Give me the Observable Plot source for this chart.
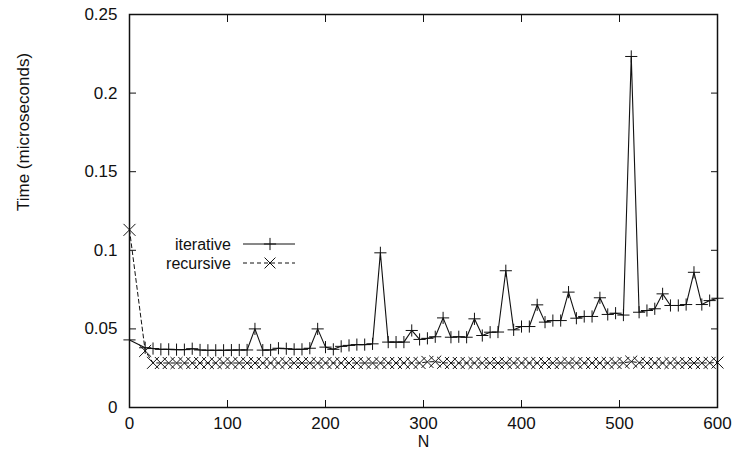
<!DOCTYPE html>
<html><head><meta charset="utf-8">
<script src="https://cdn.jsdelivr.net/npm/d3@7"></script>
<script src="https://cdn.jsdelivr.net/npm/@observablehq/plot@0.6"></script>
<style>body{margin:0;background:#fff}</style>
</head><body><div id="chart"></div>
<script>
const N = [0, 16, 24, 32, 40, 48, 56, 64, 72, 80, 88, 96, 104, 112, 120, 128, 136, 144, 152, 160,
  168, 176, 184, 192, 200, 208, 216, 224, 232, 240, 248, 256, 264, 272, 280, 288, 296, 304, 312, 320,
  328, 336, 344, 352, 360, 368, 376, 384, 392, 400, 408, 416, 424, 432, 440, 448, 456, 464, 472, 480,
  488, 496, 504, 512, 520, 528, 536, 544, 552, 560, 568, 576, 584, 592, 600];
const iterative = [0.043, 0.038, 0.0375, 0.037, 0.037, 0.0368, 0.0368, 0.0374, 0.0366, 0.0364, 0.0364, 0.0364, 0.0365, 0.0366, 0.0366, 0.050, 0.0365, 0.0366, 0.0377, 0.0374,
  0.037, 0.037, 0.0377, 0.050, 0.0384, 0.037, 0.0389, 0.0395, 0.040, 0.040, 0.0405, 0.0984, 0.0416, 0.0416, 0.0416, 0.049, 0.0433, 0.044, 0.045, 0.057,
  0.0447, 0.045, 0.0447, 0.0564, 0.0458, 0.0479, 0.048, 0.087, 0.0494, 0.0515, 0.0515, 0.0653, 0.0543, 0.0553, 0.0553, 0.0734, 0.0568, 0.0579, 0.0579, 0.0698,
  0.0592, 0.060, 0.0588, 0.2233, 0.0606, 0.0617, 0.0628, 0.0723, 0.0649, 0.0649, 0.0655, 0.086, 0.0655, 0.068, 0.0695];
const recursive = [0.113, 0.036, 0.0284, 0.0283, 0.0283, 0.0283, 0.0283, 0.0283, 0.0283, 0.0283, 0.0283, 0.0283, 0.0283, 0.0283, 0.0283, 0.0283, 0.0283, 0.0283, 0.0283, 0.0283,
  0.0283, 0.0283, 0.0283, 0.0283, 0.0283, 0.0283, 0.0283, 0.0283, 0.0283, 0.0283, 0.0283, 0.0283, 0.0283, 0.0283, 0.0283, 0.0283, 0.0283, 0.029, 0.0292, 0.0284,
  0.0283, 0.0283, 0.0283, 0.0283, 0.0283, 0.0283, 0.0283, 0.0283, 0.0283, 0.0283, 0.0283, 0.0283, 0.0283, 0.0283, 0.0283, 0.0283, 0.0283, 0.0283, 0.0283, 0.0283,
  0.0283, 0.0283, 0.0284, 0.0292, 0.0285, 0.0283, 0.0283, 0.0283, 0.0283, 0.0283, 0.0283, 0.0283, 0.0283, 0.0284, 0.0286];
const xTicks = [0, 100, 200, 300, 400, 500, 600];
const yTicks = [0, 0.05, 0.1, 0.15, 0.2, 0.25];
const seriesNames = ["iterative", "recursive"];
const xLabel = "N";
const yLabel = "Time (microseconds)";

const itRows = N.map((n, i) => ({N: n, t: iterative[i]}));
const recRows = N.map((n, i) => ({N: n, t: recursive[i]}));
const ink = "#111";

const plot = Plot.plot({
  width: 733, height: 455,
  marginLeft: 129, marginRight: 16, marginTop: 14, marginBottom: 48,
  style: {fontFamily: "'Liberation Sans', Arial, sans-serif", fontSize: "17px", color: ink, background: "#fff"},
  x: {domain: [0, 600]},
  y: {domain: [0, 0.25]},
  marks: [
    Plot.axisX(xTicks, {anchor: "bottom", tickSize: 0, tickPadding: 9, label: null, tickFormat: d => String(d)}),
    Plot.axisX(xTicks, {anchor: "bottom", tickSize: -7, tickFormat: () => "", label: null}),
    Plot.axisX(xTicks, {anchor: "top", tickSize: -7, tickFormat: () => "", label: null}),
    Plot.axisY(yTicks, {anchor: "left", tickSize: 0, tickPadding: 12, label: null, tickFormat: d => String(d)}),
    Plot.axisY(yTicks, {anchor: "left", tickSize: -7, tickFormat: () => "", label: null}),
    Plot.axisY(yTicks, {anchor: "right", tickSize: -7, tickFormat: () => "", label: null}),
    Plot.frame({stroke: ink, strokeWidth: 1.5}),
    Plot.line(recRows, {x: "N", y: "t", stroke: ink, strokeWidth: 1, strokeDasharray: "4,3"}),
    Plot.dot(recRows, {x: "N", y: "t", symbol: "times", r: 5.5, stroke: ink, strokeWidth: 1}),
    Plot.line(itRows, {x: "N", y: "t", stroke: ink, strokeWidth: 1.1}),
    Plot.dot(itRows, {x: "N", y: "t", symbol: "plus", r: 4, stroke: ink, strokeWidth: 1}),
    Plot.text([xLabel], {frameAnchor: "bottom", dy: 39, fontSize: 16, fill: ink}),
    Plot.text([yLabel], {frameAnchor: "left", rotate: -90, dx: -106, dy: 0, fontSize: 17, fill: ink})
  ]
});

// legend
const svg = d3.select(plot);
const lg = svg.append("g").attr("font-family", "'Liberation Sans', Arial, sans-serif").attr("font-size", 16).attr("fill", ink);
const rowsY = [244, 263];
const dashes = [null, "4,3"];
const syms = [d3.symbolPlus, d3.symbolTimes];
const symSizes = [4 * 4 * Math.PI, 5 * 5 * Math.PI];
seriesNames.forEach((name, i) => {
  lg.append("text").attr("x", 231).attr("y", rowsY[i]).attr("dy", "0.35em").attr("text-anchor", "end").text(name);
  lg.append("line").attr("x1", 243).attr("x2", 295).attr("y1", rowsY[i]).attr("y2", rowsY[i])
    .attr("stroke", ink).attr("stroke-width", 1).attr("stroke-dasharray", dashes[i]);
  lg.append("path").attr("d", d3.symbol(syms[i], symSizes[i])()).attr("transform", `translate(270,${rowsY[i]})`)
    .attr("fill", "none").attr("stroke", ink).attr("stroke-width", 1);
});

document.getElementById("chart").appendChild(plot);
</script>
</body></html>
